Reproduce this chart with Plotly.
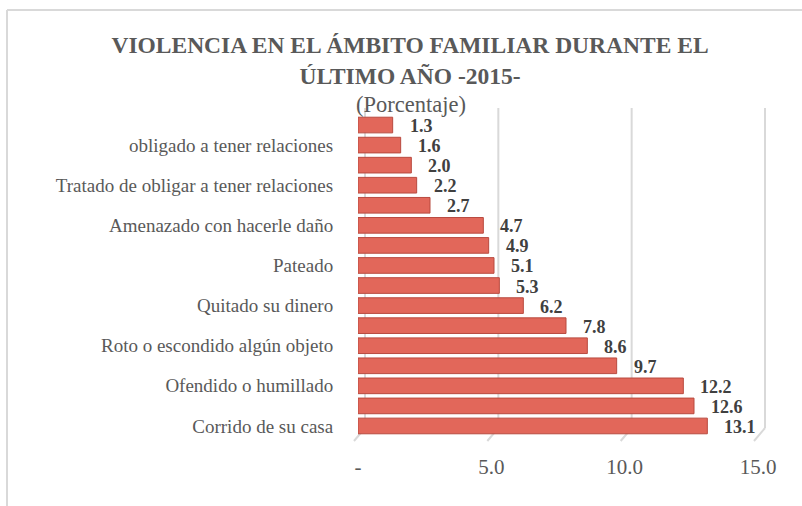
import plotly.graph_objects as go

# Data (bottom to top)
labels = [
    "Corrido de su casa", "", "Ofendido o humillado", "",
    "Roto o escondido algún objeto", "", "Quitado su dinero", "",
    "Pateado", "", "Amenazado con hacerle daño", "",
    "Tratado de obligar a tener relaciones", "", "obligado a tener relaciones", "",
]
values = [13.1, 12.6, 12.2, 9.7, 8.6, 7.8, 6.2, 5.3, 5.1, 4.9, 4.7, 2.7, 2.2, 2.0, 1.6, 1.3]
x_tickvals = [0, 5, 10, 15]
x_ticktext = ["-", "5.0", "10.0", "15.0"]

positions = list(range(len(values)))
shown_pos = [p for p, l in zip(positions, labels) if l]
shown_lab = [l for l in labels if l]

SERIF = "Liberation Serif"
GRAY = "#595959"
GRID = "#D9D9D9"

L, R, T, B = 358, 44, 115, 70
PW, PH = 802 - L - R, 506 - T - B
XMAX = 15

def px(x):
    return (x - L) / PW

def py(y):
    return (506 - B - y) / PH

fig = go.Figure()
fig.add_trace(go.Bar(
    x=values, y=positions, orientation="h",
    marker=dict(color="#E2675A", line=dict(color="#B84A3F", width=1)),
    width=0.78,
    hoverinfo="x",
))

annotations = []
for p, v in zip(positions, values):
    annotations.append(dict(
        x=v, y=p, xref="x", yref="y", text=f"<b>{v:.1f}</b>",
        showarrow=False, xanchor="left", xshift=15, yshift=-1,
        font=dict(family=SERIF, size=18, color="#404040"),
    ))
annotations.append(dict(
    x=px(411), y=py(104), xref="paper", yref="paper",
    xanchor="center", yanchor="middle",
    text="(Porcentaje)", showarrow=False,
    font=dict(family=SERIF, size=22.5, color=GRAY),
))

# back-wall gridlines (3D look): shifted right a little, with a floor tail
shapes = []
for v in x_tickvals:
    gx = (v / XMAX) + 7 / PW
    shapes.append(dict(type="line", xref="paper", yref="paper", layer="below",
                       x0=gx, x1=gx, y0=py(108), y1=py(428),
                       line=dict(color=GRID, width=2)))
    shapes.append(dict(type="line", xref="paper", yref="paper", layer="below",
                       x0=gx, x1=gx - 11 / PW, y0=py(428), y1=py(441),
                       line=dict(color=GRID, width=2)))
# chart border
shapes.append(dict(type="line", xref="paper", yref="paper",
                   x0=px(7), x1=px(802), y0=py(10), y1=py(10),
                   line=dict(color=GRID, width=2)))
shapes.append(dict(type="line", xref="paper", yref="paper",
                   x0=px(7), x1=px(7), y0=py(10), y1=py(506),
                   line=dict(color=GRID, width=2)))

fig.update_layout(
    width=802, height=506,
    margin=dict(l=L, r=R, t=T, b=B),
    paper_bgcolor="white", plot_bgcolor="white",
    showlegend=False,
    title=dict(
        text="<b>VIOLENCIA EN EL ÁMBITO FAMILIAR DURANTE EL<br>ÚLTIMO AÑO -2015-</b>",
        x=410 / 802, xanchor="center", y=1 - 53 / 506, yanchor="top",
        font=dict(family=SERIF, size=23.5, color=GRAY),
    ),
    annotations=annotations,
    shapes=shapes,
    xaxis=dict(
        range=[0, XMAX], tickvals=x_tickvals, ticktext=x_ticktext,
        showgrid=False, zeroline=False, showline=False,
        ticks="outside", ticklen=12, tickcolor="rgba(0,0,0,0)",
        tickfont=dict(family=SERIF, size=21, color=GRAY),
    ),
    yaxis=dict(
        range=[-0.5, len(values) - 0.5],
        tickmode="array", tickvals=shown_pos, ticktext=shown_lab,
        showgrid=False, zeroline=False, showline=False,
        ticks="outside", ticklen=20, tickcolor="rgba(0,0,0,0)",
        tickfont=dict(family=SERIF, size=19, color=GRAY),
    ),
)

fig.write_html("out.html", config={"displayModeBar": False},
               post_script="document.body.style.margin='0';")
